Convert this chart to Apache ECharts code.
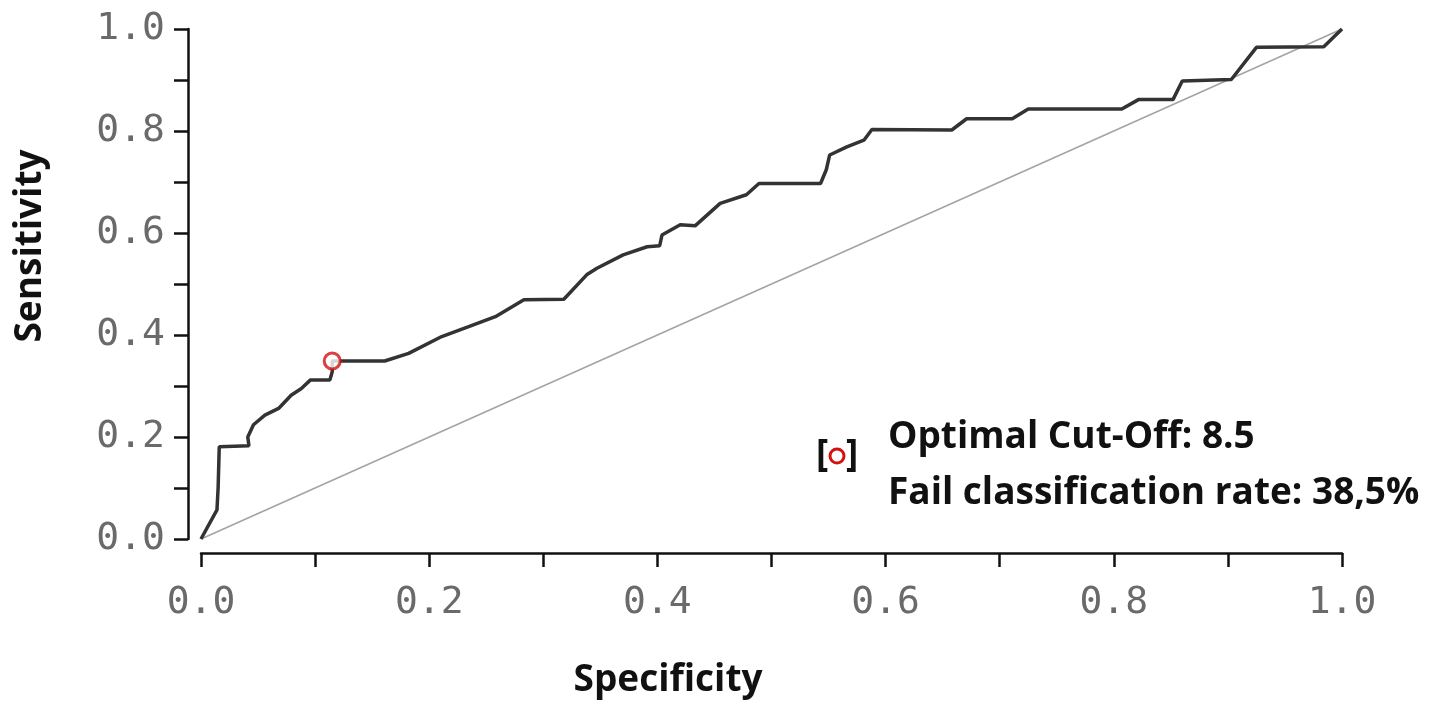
<!DOCTYPE html>
<html>
<head>
<meta charset="utf-8">
<title>ROC curve</title>
<script src="https://cdn.jsdelivr.net/npm/echarts@6.0.0/dist/echarts.min.js"></script>
<style>
  html, body { margin: 0; padding: 0; background: #fff; }
  #chart { width: 1438px; height: 702px; }
</style>
</head>
<body>
<div id="chart"></div>
<script>
// ROC curve points (specificity on x, sensitivity on y)
const rocSpec = [0, 0.014, 0.015, 0.016, 0.042, 0.041, 0.046, 0.056, 0.068, 0.079, 0.088, 0.096, 0.113, 0.115, 0.115,
  0.161, 0.182, 0.211, 0.234, 0.258, 0.283, 0.318, 0.338, 0.347, 0.370, 0.391, 0.402, 0.404, 0.420, 0.433,
  0.455, 0.478, 0.489, 0.543, 0.548, 0.551, 0.566, 0.581, 0.588, 0.658, 0.671, 0.711, 0.725, 0.807, 0.822,
  0.852, 0.860, 0.903, 0.925, 0.984, 1.0];
const rocSens = [0, 0.057, 0.100, 0.181, 0.183, 0.200, 0.224, 0.243, 0.256, 0.282, 0.295, 0.312, 0.312, 0.328, 0.349,
  0.349, 0.364, 0.397, 0.416, 0.436, 0.469, 0.470, 0.518, 0.531, 0.557, 0.573, 0.575, 0.596, 0.616, 0.614,
  0.658, 0.675, 0.697, 0.697, 0.724, 0.753, 0.769, 0.782, 0.803, 0.802, 0.824, 0.824, 0.843, 0.843, 0.862,
  0.862, 0.898, 0.901, 0.964, 0.965, 1.0];

// chance line
const diagSpec = [0, 1];
const diagSens = [0, 1];

// optimal cut-off point
const cutSpec = [0.115];
const cutSens = [0.349];

// only these ticks get a label, the others are minor ticks
const labelTicks = [0, 0.2, 0.4, 0.6, 0.8, 1.0];

const noteLines = ['Optimal Cut-Off: 8.5', 'Fail classification rate: 38,5%'];

const zip = (xs, ys) => xs.map((x, i) => [x, ys[i]]);

const tickLabel = (v) => {
  const hit = labelTicks.some((t) => Math.abs(t - v) < 1e-6);
  return hit ? v.toFixed(1) : '';
};

const axisCommon = {
  type: 'value',
  min: 0,
  max: 1,
  interval: 0.1,
  splitLine: { show: false },
  axisLine: { show: true, onZero: false, lineStyle: { color: '#111', width: 2.5 } },
  axisTick: { show: true, length: 14, lineStyle: { color: '#111', width: 2.5 } },
  axisLabel: {
    formatter: tickLabel,
    color: '#6a6a6a',
    fontFamily: 'DejaVu Sans Mono',
    fontSize: 38,
    showMinLabel: true,
    showMaxLabel: true,
  },
};

const myChart = echarts.init(document.getElementById('chart'));

const titleFont = 'bold 37px "Open Sans"';

var option = {
  animation: false,
  backgroundColor: '#fff',
  grid: { left: 201, right: 96, top: 29, bottom: 163, containLabel: false },
  xAxis: Object.assign({}, axisCommon, {
    offset: 14,
    axisLabel: Object.assign({}, axisCommon.axisLabel, { margin: 31 }),
  }),
  yAxis: Object.assign({}, axisCommon, {
    offset: 13,
    axisLabel: Object.assign({}, axisCommon.axisLabel, { margin: 23 }),
  }),
  series: [
    {
      name: 'chance',
      type: 'line',
      data: zip(diagSpec, diagSens),
      showSymbol: false,
      silent: true,
      lineStyle: { color: '#a3a3a3', width: 1.5 },
      z: 1,
    },
    {
      name: 'ROC',
      type: 'line',
      data: zip(rocSpec, rocSens),
      showSymbol: false,
      lineStyle: { color: '#333', width: 3.5 },
      z: 2,
    },
    {
      name: 'cut-off',
      type: 'scatter',
      data: zip(cutSpec, cutSens),
      symbol: 'circle',
      symbolSize: 16,
      itemStyle: { color: '#fff', borderColor: '#d41010', borderWidth: 3 },
      z: 3,
    },
  ],
  graphic: [
    // axis titles
    {
      type: 'text', x: 30, y: 246, rotation: Math.PI / 2,
      style: { text: 'Sensitivity', font: titleFont, fill: '#111', align: 'center', verticalAlign: 'middle' },
    },
    {
      type: 'text', x: 668, y: 680,
      style: { text: 'Specificity', font: titleFont, fill: '#111', align: 'center', verticalAlign: 'middle' },
    },
    // legend for the cut-off point
    {
      type: 'text', x: 822, y: 455,
      style: { text: '[', font: titleFont, fill: '#111', align: 'center', verticalAlign: 'middle' },
    },
    {
      type: 'text', x: 852, y: 455,
      style: { text: ']', font: titleFont, fill: '#111', align: 'center', verticalAlign: 'middle' },
    },
    {
      type: 'circle', shape: { cx: 837, cy: 456, r: 7 },
      style: { fill: '#fff', stroke: '#d41010', lineWidth: 3 },
    },
    {
      type: 'text', x: 888, y: 437,
      style: { text: noteLines[0], font: 'bold 37px "Open Sans"', fill: '#111', align: 'left', verticalAlign: 'middle' },
    },
    {
      type: 'text', x: 888, y: 493,
      style: { text: noteLines[1], font: 'bold 37px "Open Sans"', fill: '#111', align: 'left', verticalAlign: 'middle' },
    },
  ],
};

myChart.setOption(option);
</script>
</body>
</html>
